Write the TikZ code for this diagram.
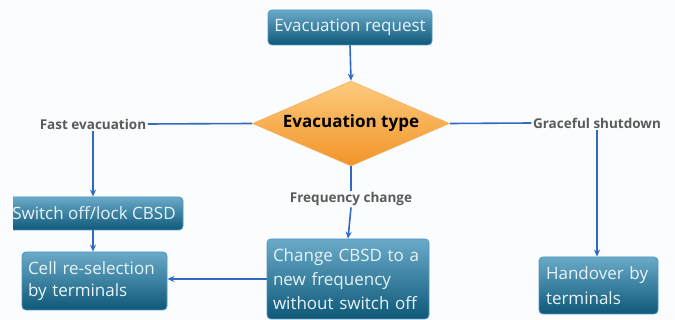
\documentclass[tikz,border=0pt]{standalone}
\usepackage{fontspec}
\setmainfont{Open Sans}
\usetikzlibrary{shapes.geometric,arrows.meta}
\definecolor{bgc}{HTML}{FBFCFE}
\definecolor{arrowblue}{HTML}{2F6BC2}
\definecolor{boxtop}{HTML}{6AAAC8}
\definecolor{boxbot}{HTML}{0E5878}
\definecolor{boxedge}{HTML}{4F96C8}
\definecolor{boxtext}{HTML}{E8F3F8}
\definecolor{diatop}{HTML}{FCCB7E}
\definecolor{diabot}{HTML}{F29428}
\definecolor{diaedge}{HTML}{F2B060}
\definecolor{labelgray}{HTML}{5A5A5A}
\tikzset{
  boxstyle/.style={rectangle, rounded corners=4pt, draw=boxedge, line width=0.8pt,
    top color=boxtop, bottom color=boxbot, text=boxtext, inner sep=0pt},
  boxfont/.style={font=\fontsize{17}{#1}\selectfont},
  branchlabel/.style={font=\fontsize{13.5}{16}\selectfont\bfseries, text=labelgray, inner sep=1.5pt},
  conn/.style={draw=arrowblue, line width=1.6pt},
  arr/.style={conn, -{Stealth[length=7pt,width=6pt]}}
}
\begin{document}
\begin{tikzpicture}[x=1pt,y=-1pt]
\useasboundingbox[fill=bgc] (0,0) rectangle (675,320);

% top box
\node[boxstyle, boxfont=20, minimum width=164pt, minimum height=35pt] (req) at (350,27.5) {Evacuation request};

% decision diamond
\node[diamond, aspect=2.32, minimum width=197pt, minimum height=85pt, inner sep=0pt,
      top color=diatop, bottom color=diabot, draw=diaedge, line width=0.6pt,
      font=\fontsize{17}{20}\selectfont\bfseries, text=black] (dia) at (351,123.5) {Evacuation type};

% branch labels
\node[branchlabel] (fast) at (93,124) {Fast evacuation};
\node[branchlabel] (freq) at (351,199) {Frequency change};
\node[branchlabel] (grace) at (597,123) {Graceful shutdown};

% switch box (clipped at left)
\begin{scope}
\clip (13,190) rectangle (200,240);
\node[boxstyle, boxfont=20, minimum width=178pt, minimum height=33pt] (sw) at (94,213.5) {Switch off/lock CBSD};
\end{scope}

% cell box
\node[boxstyle, boxfont=22, minimum height=58pt, text width=133pt, inner xsep=6pt, align=left] (cell) at (94.5,281) {Cell re-selection\\by terminals};

% change box
\node[boxstyle, boxfont=24, minimum height=80pt, text width=150pt, inner xsep=6pt, align=left] (chg) at (348,279) {Change CBSD to a\\new frequency\\without switch off};

% handover box
\node[boxstyle, boxfont=25, minimum height=57pt, text width=105pt, inner xsep=7pt, align=left] (hand) at (598.5,285.5) {Handover by\\terminals};

% connectors
\draw[arr] (req.south) -- (dia.north);
\draw[conn] (dia.west) -- (fast.east);
\draw[conn] (dia.east) -- (grace.west);
\draw[conn] (dia.south) -- (freq.north);
\draw[arr] (fast.south) -- (fast.south |- sw.north);
\draw[arr] (fast.south |- sw.south) -- (fast.south |- cell.north);
\draw[arr] (freq.south) -- (chg.north);
\draw[arr] (chg.west) -- (chg.west -| cell.east);
\draw[arr] (grace.south) -- (grace.south |- hand.north);
\end{tikzpicture}
\end{document}
